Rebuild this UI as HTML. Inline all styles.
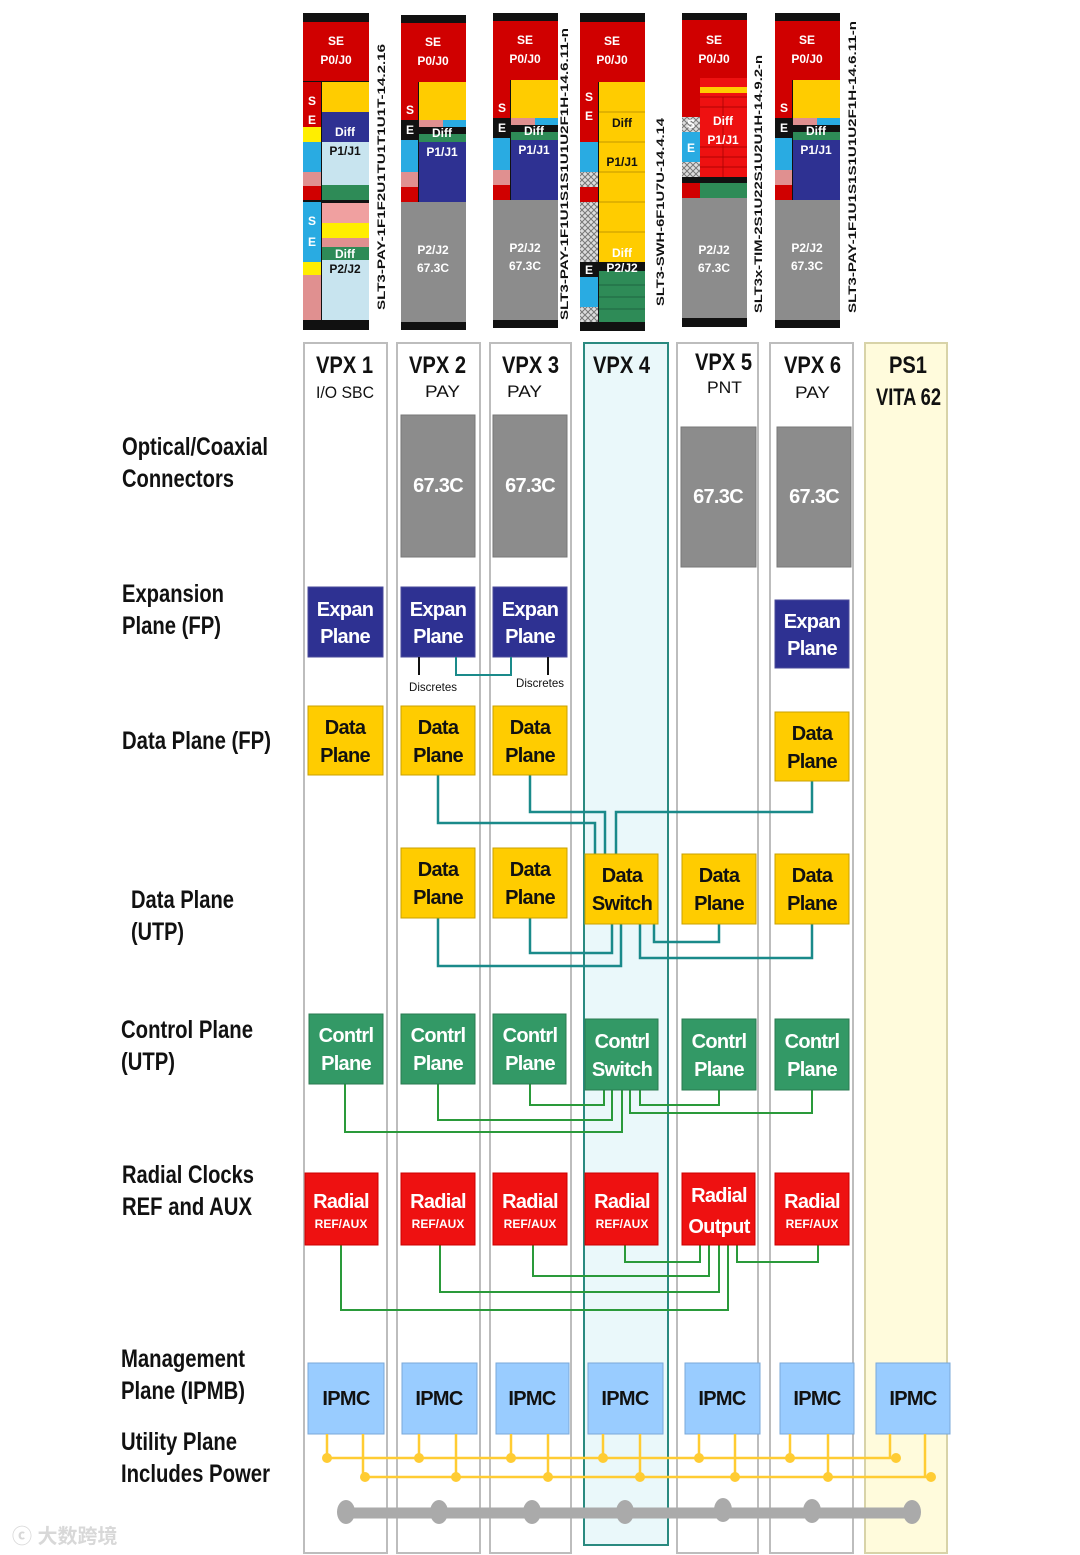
<!DOCTYPE html>
<html><head><meta charset="utf-8"><style>
html,body{margin:0;padding:0;background:#fff;}
svg{display:block;font-family:"Liberation Sans","Noto Sans CJK SC",sans-serif;}
.lb{font-weight:bold;font-size:25px;fill:#111;}
.bw{font-weight:bold;font-size:20px;fill:#fff;text-anchor:middle;letter-spacing:-0.7px;}
.bk{font-weight:bold;font-size:20px;fill:#111;text-anchor:middle;letter-spacing:-0.7px;}
.hd{font-weight:bold;font-size:24px;fill:#111;}
.sb{font-size:17px;fill:#111;}
.cw{font-weight:bold;font-size:12px;fill:#fff;text-anchor:middle;}
.ck{font-weight:bold;font-size:12px;fill:#111;text-anchor:middle;}
.rot{font-weight:bold;font-size:11px;fill:#111;}
</style></head><body>
<svg width="1080" height="1555" viewBox="0 0 1080 1555" xmlns="http://www.w3.org/2000/svg">
<defs>
<pattern id="hx" width="6" height="6" patternUnits="userSpaceOnUse">
<rect width="6" height="6" fill="#ddd"/><path d="M0 0L6 6M6 0L0 6" stroke="#777" stroke-width="1"/>
</pattern>
</defs>

<g>
<rect x="303" y="13" width="66" height="317" fill="#111"/>
<rect x="303" y="22" width="66" height="59" fill="#d00000"/>
<text class="cw" x="336" y="45" font-size="13">SE</text><text class="cw" x="336" y="64">P0/J0</text>
<rect x="303" y="82" width="18" height="45" fill="#d00000"/>
<rect x="303" y="127" width="18" height="15" fill="#ffee00"/>
<rect x="303" y="142" width="18" height="30" fill="#29abe2"/>
<rect x="303" y="172" width="18" height="14" fill="#e09090"/>
<rect x="303" y="186" width="18" height="14" fill="#d00000"/>
<rect x="303" y="202" width="18" height="60" fill="#29abe2"/>
<rect x="303" y="262" width="18" height="13" fill="#ffee00"/>
<rect x="303" y="275" width="18" height="45" fill="#e09090"/>
<text class="cw" x="312" y="105">S</text><text class="cw" x="312" y="124">E</text>
<text class="cw" x="312" y="225">S</text><text class="cw" x="312" y="246">E</text>
<rect x="322" y="82" width="47" height="30" fill="#ffcc00"/>
<rect x="322" y="112" width="47" height="30" fill="#2e3192"/>
<text class="cw" x="345" y="136">Diff</text>
<rect x="322" y="142" width="47" height="43" fill="#c8e4ef"/>
<text class="ck" x="345" y="155">P1/J1</text>
<rect x="322" y="185" width="47" height="15" fill="#2e8b57"/>
<rect x="322" y="203" width="47" height="20" fill="#f0a0a0"/>
<rect x="322" y="223" width="47" height="15" fill="#ffee00"/>
<rect x="322" y="238" width="47" height="9" fill="#e09090"/>
<rect x="322" y="247" width="47" height="13" fill="#2e8b57"/>
<text class="cw" x="345" y="258">Diff</text>
<rect x="322" y="260" width="47" height="60" fill="#c8e4ef"/>
<text class="ck" x="345" y="273">P2/J2</text>
</g>
<text class="rot" transform="translate(385,310) rotate(-90)" textLength="266" lengthAdjust="spacingAndGlyphs">SLT3-PAY-1F1F2U1TU1T1U1T-14.2.16</text>

<g id="pay">
<rect x="401" y="15" width="65" height="315" fill="#111"/>
<rect x="401" y="23" width="65" height="59" fill="#d00000"/>
<text class="cw" x="433" y="46" font-size="13">SE</text><text class="cw" x="433" y="65">P0/J0</text>
<rect x="401" y="82" width="17" height="38" fill="#d00000"/>
<rect x="401" y="120" width="65" height="15" fill="#111"/>
<rect x="401" y="140" width="17" height="32" fill="#29abe2"/>
<rect x="401" y="172" width="17" height="15" fill="#e09090"/>
<rect x="401" y="187" width="17" height="15" fill="#d00000"/>
<text class="cw" x="410" y="114">S</text><text class="cw" x="410" y="134">E</text>
<rect x="419" y="82" width="47" height="38" fill="#ffcc00"/>
<rect x="419" y="120" width="24" height="7" fill="#e09090"/><rect x="443" y="120" width="23" height="7" fill="#29abe2"/>
<rect x="419" y="134" width="47" height="8" fill="#2e8b57"/>
<text class="cw" x="442" y="137">Diff</text>
<rect x="419" y="142" width="47" height="60" fill="#2e3192"/>
<text class="cw" x="442" y="156">P1/J1</text>
<rect x="401" y="202" width="65" height="120" fill="#8c8c8c"/>
<text class="cw" x="433" y="254">P2/J2</text><text class="cw" x="433" y="272">67.3C</text>
</g>
<use href="#pay" transform="translate(92,-2)"/>
<use href="#pay" transform="translate(374,-2)"/>
<text class="rot" transform="translate(568,320) rotate(-90)" textLength="292" lengthAdjust="spacingAndGlyphs">SLT3-PAY-1F1U1S1S1U1U2F1H-14.6.11-n</text>
<text class="rot" transform="translate(856,313) rotate(-90)" textLength="292" lengthAdjust="spacingAndGlyphs">SLT3-PAY-1F1U1S1S1U1U2F1H-14.6.11-n</text>

<g>
<rect x="580" y="13" width="65" height="318" fill="#111"/>
<rect x="580" y="22" width="65" height="60" fill="#d00000"/>
<text class="cw" x="612" y="45" font-size="13">SE</text><text class="cw" x="612" y="64">P0/J0</text>
<rect x="580" y="82" width="18" height="60" fill="#d00000"/>
<text class="cw" x="589" y="101">S</text><text class="cw" x="589" y="120">E</text>
<rect x="580" y="142" width="18" height="30" fill="#29abe2"/>
<rect x="580" y="172" width="18" height="15" fill="url(#hx)"/>
<rect x="580" y="187" width="18" height="15" fill="#d00000"/>
<rect x="580" y="202" width="18" height="60" fill="url(#hx)"/>
<rect x="580" y="262" width="18" height="15" fill="#111"/>
<text class="cw" x="589" y="274">E</text>
<rect x="580" y="277" width="18" height="30" fill="#29abe2"/>
<rect x="580" y="307" width="18" height="15" fill="url(#hx)"/>
<rect x="599" y="82" width="46" height="180" fill="#ffcc00"/>
<path d="M599 112H645M599 142H645M599 172H645M599 202H645M599 232H645" stroke="#b08800" stroke-width="0.7"/>
<text class="ck" x="622" y="127">Diff</text><text class="ck" x="622" y="166">P1/J1</text>
<text class="cw" x="622" y="257">Diff</text>
<rect x="599" y="262" width="46" height="9" fill="#111"/>
<rect x="599" y="271" width="46" height="51" fill="#2e8b57"/>
<text class="cw" x="622" y="272">P2/J2</text>
<path d="M599 285H645M599 297H645M599 309H645" stroke="#1a5a3a" stroke-width="0.8"/>
</g>
<text class="rot" transform="translate(664,306) rotate(-90)" textLength="188" lengthAdjust="spacingAndGlyphs">SLT3-SWH-6F1U7U-14.4.14</text>

<g>
<rect x="682" y="13" width="65" height="314" fill="#111"/>
<rect x="682" y="20" width="65" height="58" fill="#d00000"/>
<text class="cw" x="714" y="44" font-size="13">SE</text><text class="cw" x="714" y="63">P0/J0</text>
<rect x="682" y="78" width="18" height="39" fill="#d00000"/>
<rect x="682" y="117" width="18" height="15" fill="url(#hx)"/>
<rect x="682" y="132" width="18" height="30" fill="#29abe2"/>
<text class="cw" x="691" y="128">S</text><text class="cw" x="691" y="152">E</text>
<rect x="682" y="162" width="18" height="15" fill="url(#hx)"/>
<rect x="682" y="183" width="18" height="15" fill="#d00000"/>
<rect x="700" y="78" width="47" height="99" fill="#ee1111"/>
<rect x="700" y="87" width="47" height="6" fill="#ffcc00"/>
<path d="M700 97H747M700 107H747M700 147H747M700 157H747M700 167H747M723 97V177" stroke="#a00000" stroke-width="0.7"/>
<text class="cw" x="723" y="125">Diff</text><text class="cw" x="723" y="144">P1/J1</text>
<rect x="700" y="183" width="47" height="15" fill="#2e8b57"/>
<rect x="682" y="198" width="65" height="120" fill="#8c8c8c"/>
<text class="cw" x="714" y="254">P2/J2</text><text class="cw" x="714" y="272">67.3C</text>
</g>
<text class="rot" transform="translate(762,313) rotate(-90)" textLength="258" lengthAdjust="spacingAndGlyphs">SLT3x-TIM-2S1U22S1U2U1H-14.9.2-n</text>

<g fill="none" stroke="#bdbdbd" stroke-width="2">
<rect x="304" y="343" width="83" height="1210" fill="#fff"/>
<rect x="397" y="343" width="83" height="1210" fill="#fff"/>
<rect x="490" y="343" width="81" height="1210" fill="#fff"/>
<rect x="677" y="343" width="81" height="1210" fill="#fff"/>
<rect x="770" y="343" width="83" height="1210" fill="#fff"/>
<rect x="865" y="343" width="82" height="1210" fill="#fffbdc" stroke="#d8d3a8"/>
</g>
<rect x="584" y="343" width="84" height="1202" fill="#eaf8fa" stroke="#2a8a80" stroke-width="2"/>

<text class="hd" x="316" y="373" textLength="57" lengthAdjust="spacingAndGlyphs">VPX 1</text>
<text class="sb" x="316" y="398" textLength="58" lengthAdjust="spacingAndGlyphs">I/O SBC</text>
<text class="hd" x="409" y="373" textLength="57" lengthAdjust="spacingAndGlyphs">VPX 2</text>
<text class="sb" x="425" y="397" textLength="35" lengthAdjust="spacingAndGlyphs">PAY</text>
<text class="hd" x="502" y="373" textLength="57" lengthAdjust="spacingAndGlyphs">VPX 3</text>
<text class="sb" x="507" y="397" textLength="35" lengthAdjust="spacingAndGlyphs">PAY</text>
<text class="hd" x="593" y="373" textLength="57" lengthAdjust="spacingAndGlyphs">VPX 4</text>
<text class="hd" x="695" y="370" textLength="57" lengthAdjust="spacingAndGlyphs">VPX 5</text>
<text class="sb" x="707" y="393" textLength="35" lengthAdjust="spacingAndGlyphs">PNT</text>
<text class="hd" x="784" y="373" textLength="57" lengthAdjust="spacingAndGlyphs">VPX 6</text>
<text class="sb" x="795" y="398" textLength="35" lengthAdjust="spacingAndGlyphs">PAY</text>
<text class="hd" x="889" y="373" textLength="38" lengthAdjust="spacingAndGlyphs">PS1</text>
<text class="hd" x="876" y="405" font-size="20" textLength="65" lengthAdjust="spacingAndGlyphs">VITA 62</text>

<text class="lb" x="122" y="455" textLength="146" lengthAdjust="spacingAndGlyphs">Optical/Coaxial</text>
<text class="lb" x="122" y="487" textLength="112" lengthAdjust="spacingAndGlyphs">Connectors</text>
<text class="lb" x="122" y="602" textLength="102" lengthAdjust="spacingAndGlyphs">Expansion</text>
<text class="lb" x="122" y="634" textLength="99" lengthAdjust="spacingAndGlyphs">Plane (FP)</text>
<text class="lb" x="122" y="749" textLength="149" lengthAdjust="spacingAndGlyphs">Data Plane (FP)</text>
<text class="lb" x="131" y="908" textLength="103" lengthAdjust="spacingAndGlyphs">Data Plane</text>
<text class="lb" x="131" y="940" textLength="53" lengthAdjust="spacingAndGlyphs">(UTP)</text>
<text class="lb" x="121" y="1038" textLength="132" lengthAdjust="spacingAndGlyphs">Control Plane</text>
<text class="lb" x="121" y="1070" textLength="54" lengthAdjust="spacingAndGlyphs">(UTP)</text>
<text class="lb" x="122" y="1183" textLength="132" lengthAdjust="spacingAndGlyphs">Radial Clocks</text>
<text class="lb" x="122" y="1215" textLength="130" lengthAdjust="spacingAndGlyphs">REF and AUX</text>
<text class="lb" x="121" y="1367" textLength="124" lengthAdjust="spacingAndGlyphs">Management</text>
<text class="lb" x="121" y="1399" textLength="124" lengthAdjust="spacingAndGlyphs">Plane (IPMB)</text>
<text class="lb" x="121" y="1450" textLength="116" lengthAdjust="spacingAndGlyphs">Utility Plane</text>
<text class="lb" x="121" y="1482" textLength="149" lengthAdjust="spacingAndGlyphs">Includes Power</text>

<g fill="#8c8c8c" stroke="#777" stroke-width="1">
<rect x="401" y="415" width="74" height="142"/><rect x="493" y="415" width="74" height="142"/>
<rect x="681" y="427" width="75" height="140"/><rect x="777" y="427" width="74" height="140"/>
</g>
<text class="bw" x="438" y="492">67.3C</text><text class="bw" x="530" y="492">67.3C</text>
<text class="bw" x="718" y="503">67.3C</text><text class="bw" x="814" y="503">67.3C</text>

<g fill="#2e3192" stroke="#4a4a9a" stroke-width="1">
<rect x="308" y="587" width="75" height="70"/><rect x="401" y="587" width="74" height="70"/>
<rect x="493" y="587" width="74" height="70"/><rect x="775" y="600" width="74" height="68"/>
</g>
<g class="bw"><text x="345" y="616">Expan</text><text x="345" y="643">Plane</text>
<text x="438" y="616">Expan</text><text x="438" y="643">Plane</text>
<text x="530" y="616">Expan</text><text x="530" y="643">Plane</text>
<text x="812" y="628">Expan</text><text x="812" y="655">Plane</text></g>
<path d="M419 657V675M548 657V675" stroke="#111" stroke-width="2"/>
<path d="M456 657V675H511V657" stroke="#1a8a8a" stroke-width="2" fill="none"/>
<text x="409" y="691" font-size="12" fill="#111" textLength="48" lengthAdjust="spacingAndGlyphs">Discretes</text>
<text x="516" y="687" font-size="12" fill="#111" textLength="48" lengthAdjust="spacingAndGlyphs">Discretes</text>

<g stroke="#1a8a8a" stroke-width="2.5" fill="none">
<path d="M438 775V823H595V854"/>
<path d="M530 775V812H605V854"/>
<path d="M812 781V812H616V854"/>
<path d="M438 918V966H621V924"/>
<path d="M530 918V953H612V924"/>
<path d="M719 924V942H654V924"/>
<path d="M812 924V958H640V924"/>
</g>

<g fill="#ffcc00" stroke="#c9a000" stroke-width="1">
<rect x="308" y="706" width="75" height="69"/><rect x="401" y="706" width="74" height="69"/>
<rect x="493" y="706" width="74" height="69"/><rect x="775" y="712" width="74" height="69"/>
<rect x="401" y="848" width="74" height="70"/><rect x="493" y="848" width="74" height="70"/>
<rect x="585" y="854" width="73" height="70"/><rect x="682" y="854" width="74" height="70"/>
<rect x="775" y="854" width="74" height="70"/>
</g>
<g class="bk"><text x="345" y="734">Data</text><text x="345" y="762">Plane</text>
<text x="438" y="734">Data</text><text x="438" y="762">Plane</text>
<text x="530" y="734">Data</text><text x="530" y="762">Plane</text>
<text x="812" y="740">Data</text><text x="812" y="768">Plane</text>
<text x="438" y="876">Data</text><text x="438" y="904">Plane</text>
<text x="530" y="876">Data</text><text x="530" y="904">Plane</text>
<text x="622" y="882">Data</text><text x="622" y="910">Switch</text>
<text x="719" y="882">Data</text><text x="719" y="910">Plane</text>
<text x="812" y="882">Data</text><text x="812" y="910">Plane</text></g>

<g stroke="#2a9a3a" stroke-width="2" fill="none">
<path d="M345 1084V1132H622V1090"/>
<path d="M438 1084V1120H612V1090"/>
<path d="M530 1084V1105H604V1090"/>
<path d="M719 1090V1105H640V1090"/>
<path d="M812 1090V1113H630V1090"/>
</g>
<g fill="#339966" stroke="#2a7a50" stroke-width="1">
<rect x="309" y="1014" width="74" height="70"/><rect x="401" y="1014" width="74" height="70"/>
<rect x="493" y="1014" width="73" height="70"/><rect x="585" y="1019" width="73" height="71"/>
<rect x="682" y="1019" width="74" height="71"/><rect x="775" y="1019" width="74" height="71"/>
</g>
<g class="bw"><text x="346" y="1042">Contrl</text><text x="346" y="1070">Plane</text>
<text x="438" y="1042">Contrl</text><text x="438" y="1070">Plane</text>
<text x="530" y="1042">Contrl</text><text x="530" y="1070">Plane</text>
<text x="622" y="1048">Contrl</text><text x="622" y="1076">Switch</text>
<text x="719" y="1048">Contrl</text><text x="719" y="1076">Plane</text>
<text x="812" y="1048">Contrl</text><text x="812" y="1076">Plane</text></g>

<g stroke="#2a9a3a" stroke-width="2" fill="none">
<path d="M341 1245V1310H728V1245"/>
<path d="M440 1245V1292H719V1245"/>
<path d="M533 1245V1276H709V1245"/>
<path d="M625 1245V1262H700V1245"/>
<path d="M818 1245V1262H737V1245"/>
</g>
<g fill="#ee1111" stroke="#c00" stroke-width="1">
<rect x="305" y="1173" width="73" height="72"/><rect x="401" y="1173" width="74" height="72"/>
<rect x="493" y="1173" width="74" height="72"/><rect x="585" y="1173" width="73" height="72"/>
<rect x="682" y="1173" width="73" height="72"/><rect x="775" y="1173" width="74" height="72"/>
</g>
<g class="bw"><text x="341" y="1208">Radial</text><text x="438" y="1208">Radial</text>
<text x="530" y="1208">Radial</text><text x="622" y="1208">Radial</text>
<text x="719" y="1202">Radial</text><text x="719" y="1233">Output</text>
<text x="812" y="1208">Radial</text></g>
<g class="cw" font-weight="normal"><text x="341" y="1228">REF/AUX</text><text x="438" y="1228">REF/AUX</text>
<text x="530" y="1228">REF/AUX</text><text x="622" y="1228">REF/AUX</text><text x="812" y="1228">REF/AUX</text></g>

<g fill="#99ccff" stroke="#7aa8d8" stroke-width="1">
<rect x="308" y="1363" width="76" height="71"/><rect x="402" y="1363" width="75" height="71"/>
<rect x="496" y="1363" width="73" height="71"/><rect x="588" y="1363" width="75" height="71"/>
<rect x="685" y="1363" width="75" height="71"/><rect x="780" y="1363" width="74" height="71"/>
<rect x="876" y="1363" width="74" height="71"/>
</g>
<g class="bk"><text x="346" y="1405">IPMC</text><text x="439" y="1405">IPMC</text><text x="532" y="1405">IPMC</text>
<text x="625" y="1405">IPMC</text><text x="722" y="1405">IPMC</text><text x="817" y="1405">IPMC</text><text x="913" y="1405">IPMC</text></g>

<g stroke="#ffcc33" stroke-width="2.5" fill="none">
<path d="M327 1458H896M365 1477H931"/>
<path d="M327 1434V1458M419 1434V1458M511 1434V1458M603 1434V1458M699 1434V1458M790 1434V1458M890 1434V1458"/>
<path d="M363 1434V1477M456 1434V1477M548 1434V1477M640 1434V1477M735 1434V1477M828 1434V1477M925 1434V1477"/>
</g>
<g fill="#ffcc33">
<circle cx="327" cy="1458" r="5"/><circle cx="419" cy="1458" r="5"/><circle cx="511" cy="1458" r="5"/><circle cx="603" cy="1458" r="5"/><circle cx="699" cy="1458" r="5"/><circle cx="790" cy="1458" r="5"/><circle cx="896" cy="1458" r="5"/>
<circle cx="365" cy="1477" r="5"/><circle cx="456" cy="1477" r="5"/><circle cx="548" cy="1477" r="5"/><circle cx="640" cy="1477" r="5"/><circle cx="735" cy="1477" r="5"/><circle cx="828" cy="1477" r="5"/><circle cx="931" cy="1477" r="5"/>
</g>

<path d="M345 1513H905" stroke="#aaa" stroke-width="11"/>
<g fill="#aaa">
<ellipse cx="346" cy="1512" rx="9" ry="12"/><ellipse cx="439" cy="1512" rx="9" ry="12"/><ellipse cx="532" cy="1512" rx="9" ry="12"/>
<ellipse cx="625" cy="1512" rx="9" ry="12"/><ellipse cx="723" cy="1510" rx="9" ry="12"/><ellipse cx="812" cy="1511" rx="9" ry="12"/><ellipse cx="912" cy="1512" rx="9" ry="12"/>
</g>

<text x="12" y="1543" font-size="20" fill="#d8d8d8" font-weight="bold">ⓒ 大数跨境</text>
</svg>
</body></html>
